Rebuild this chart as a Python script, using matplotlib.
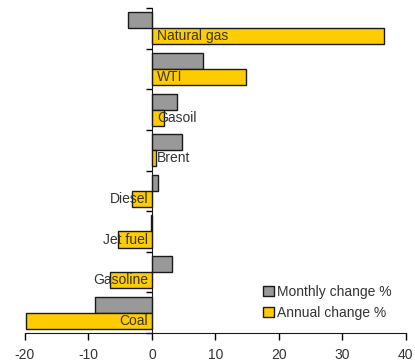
import matplotlib
matplotlib.use("Agg")
import matplotlib.pyplot as plt
import numpy as np

categories = ["Natural gas", "WTI", "Gasoil", "Brent", "Diesel", "Jet fuel", "Gasoline", "Coal"]
monthly = [-3.8, 8.0, 3.9, 4.8, 0.9, -0.2, 3.2, -8.9]
annual = [36.5, 14.9, 1.9, 0.6, -3.1, -5.3, -6.6, -19.9]
xticks = [-20, -10, 0, 10, 20, 30, 40]

plt.rcParams["font.family"] = ["Liberation Sans", "DejaVu Sans"]

fig = plt.figure(figsize=(4.15, 3.63), dpi=100)
ax = fig.add_axes([0.060, 0.0826, 0.918, 0.895])

y = np.arange(len(categories))
h = 0.395
ax.barh(y - h / 2, monthly, height=h, color="#999999", edgecolor="#1a1a1a",
        linewidth=1.0, label="Monthly change %", zorder=2)
ax.barh(y + h / 2, annual, height=h, color="#FFCC00", edgecolor="#1a1a1a",
        linewidth=1.0, label="Annual change %", zorder=2)

for yi, name, val in zip(y, categories, annual):
    if val >= 0:
        ax.text(0.8, yi + h / 2, name, ha="left", va="center", fontsize=10,
                color="#333333", zorder=3)
    else:
        ax.text(-0.6, yi + h / 2, name, ha="right", va="center", fontsize=10,
                color="#333333", zorder=3)

ax.set_xlim(-20, 40)
ax.set_ylim(len(categories) - 0.5, -0.5)
ax.set_xticks(xticks)
ax.set_xticklabels([str(t) for t in xticks], fontsize=10, color="#333333")
ax.set_yticks(np.arange(-0.5, len(categories), 1.0))
ax.set_yticklabels([])
ax.tick_params(axis="y", length=4, width=1, direction="out")
ax.tick_params(axis="x", length=5, width=1, direction="out", pad=5.5)

for s in ["top", "right"]:
    ax.spines[s].set_visible(False)
ax.spines["left"].set_position(("data", 0))
ax.spines["left"].set_color("#1a1a1a")
ax.spines["bottom"].set_color("#1a1a1a")

leg = ax.legend(loc="lower right", bbox_to_anchor=(0.985, 0.015), frameon=False,
                fontsize=10, handlelength=0.8, handleheight=0.8,
                handletextpad=0.25, labelspacing=0.5, borderaxespad=0.2)
for t in leg.get_texts():
    t.set_color("#333333")

fig.savefig("out.png", dpi=100)
